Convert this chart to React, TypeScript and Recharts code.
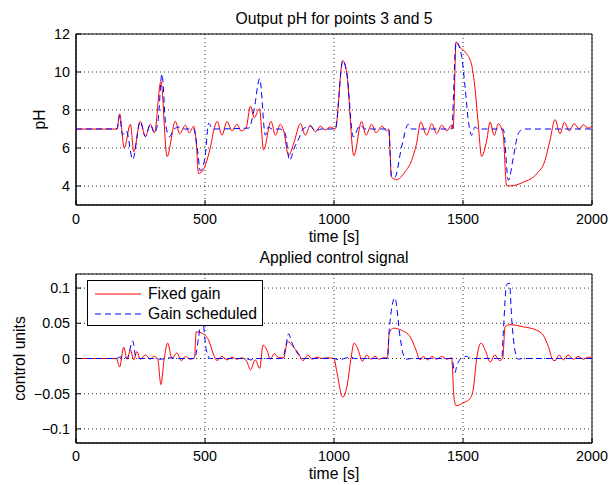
import {
  LineChart,
  Line,
  XAxis,
  YAxis,
  CartesianGrid,
  ReferenceArea,
  Legend,
} from "recharts";

const timeTicks = [0, 500, 1000, 1500, 2000];
const phTicks = [4, 6, 8, 10, 12];
const uTicks = [-0.1, -0.05, 0, 0.05, 0.1];

// [time, pH]
const phFixed: [number, number][] = [
  [0, 7], [159, 7], [169, 7.8], [187, 6.0], [211, 7.25], [224, 5.8], [249, 7.4],
  [269, 6.6], [288, 7.25], [304, 6.8], [329, 9.5], [353, 5.55], [385, 7.4],
  [402, 6.75], [424, 7.2], [439, 6.8], [456, 7.15], [466, 6.3], [475, 4.65],
  [495, 4.9], [521, 6.05], [537, 7.1], [547, 7.4], [566, 6.67], [585, 7.4],
  [605, 6.9], [624, 7.25], [640, 6.9], [660, 7.1], [676, 8.2], [691, 7.6],
  [711, 8.07], [727, 5.9], [756, 7.4], [773, 6.67], [792, 7.25], [805, 6.9],
  [824, 5.6], [845, 6.3], [870, 7.28], [889, 6.67], [908, 7.2], [928, 6.85],
  [947, 7.15], [966, 6.95], [986, 7.1], [1005, 7.0], [1034, 10.6], [1049, 10.0],
  [1077, 5.6], [1107, 7.4], [1124, 6.67], [1146, 7.25], [1163, 6.8], [1185, 7.15],
  [1204, 6.9], [1212, 7.0], [1223, 4.47], [1243, 4.33], [1275, 4.74], [1301, 5.35],
  [1320, 6.23], [1336, 7.37], [1359, 6.67], [1379, 7.28], [1398, 6.75], [1417, 7.2],
  [1437, 6.9], [1456, 7.2], [1462, 7.0], [1473, 11.58], [1488, 11.3], [1514, 10.96],
  [1534, 10.35], [1546, 9.2], [1559, 7.28], [1572, 5.56], [1592, 6.4], [1605, 7.37],
  [1621, 6.67], [1637, 7.28], [1650, 7.0], [1656, 6.7], [1669, 4.03], [1682, 4.0],
  [1734, 4.2], [1786, 4.65], [1818, 5.35], [1837, 6.4], [1857, 7.5], [1876, 6.75],
  [1893, 7.35], [1912, 6.9], [1931, 7.28], [1951, 7.0], [1966, 7.22], [1986, 7.05],
  [2000, 7.15],
];

const phScheduled: [number, number][] = [
  [0, 7], [159, 7], [169, 7.7], [180, 6.7], [195, 6.9], [220, 5.4], [249, 7.4],
  [269, 6.6], [288, 7.25], [304, 6.8], [318, 7.4], [333, 9.9], [348, 7.2],
  [363, 6.6], [380, 7.0], [400, 7.1], [420, 7.0], [456, 7.0], [470, 6.0],
  [482, 4.8], [500, 5.5], [514, 7.3], [530, 7.0], [670, 7.05], [690, 8.0],
  [712, 9.65], [734, 6.67], [745, 7.1], [760, 7.0], [790, 7.0], [810, 6.8],
  [828, 5.35], [846, 6.0], [864, 6.5], [880, 7.0], [908, 7.15], [928, 6.9],
  [950, 7.0], [1005, 7.0], [1034, 10.6], [1049, 10.0], [1075, 6.58], [1101, 7.2],
  [1120, 7.0], [1212, 7.0], [1223, 4.47], [1236, 4.47], [1262, 6.05], [1288, 7.25],
  [1300, 7.0], [1456, 7.0], [1473, 11.58], [1495, 10.8], [1508, 9.2], [1522, 7.3],
  [1534, 6.67], [1546, 7.1], [1560, 7.0], [1656, 7.0], [1676, 4.3], [1695, 5.5],
  [1714, 6.75], [1734, 7.0], [2000, 7.0],
];

// [time, control]
const uFixed: [number, number][] = [
  [0, 0], [156, 0], [169, -0.012], [185, 0.016], [198, -0.001], [211, 0.012],
  [224, -0.002], [236, 0.01], [249, -0.001], [269, 0.005], [288, -0.001],
  [301, 0.003], [317, -0.001], [329, -0.037], [342, 0.0], [355, 0.022], [372, 0.0],
  [391, 0.008], [408, -0.003], [424, 0.003], [443, -0.001], [459, 0.001],
  [466, 0.038], [488, 0.036], [514, 0.026], [534, 0.005], [547, -0.003],
  [566, 0.003], [585, -0.002], [605, 0.002], [624, -0.001], [643, 0.001],
  [663, -0.005], [676, -0.016], [695, -0.002], [712, -0.014], [725, 0.019],
  [740, 0.012], [753, -0.001], [769, 0.007], [786, 0.001], [805, 0.001],
  [820, 0.024], [841, 0.017], [863, 0.007], [880, -0.003], [898, 0.005],
  [915, -0.001], [934, 0.002], [953, 0.0], [973, 0.001], [1000, 0.0],
  [1010, -0.017], [1034, -0.055], [1052, -0.036], [1065, -0.002], [1078, 0.022],
  [1094, 0.012], [1110, -0.004], [1127, 0.005], [1142, -0.001], [1159, 0.003],
  [1176, -0.001], [1191, 0.001], [1207, 0.001], [1214, 0.036], [1230, 0.043],
  [1262, 0.04], [1295, 0.031], [1318, 0.012], [1333, -0.002], [1346, 0.003],
  [1363, -0.002], [1379, 0.003], [1398, -0.001], [1417, 0.003], [1437, -0.001],
  [1456, 0.001], [1465, -0.055], [1473, -0.067], [1501, -0.063], [1527, -0.057],
  [1540, -0.043], [1553, 0.0], [1570, 0.022], [1588, 0.01], [1605, -0.005],
  [1624, 0.005], [1641, -0.003], [1654, 0.0], [1663, 0.045], [1682, 0.048],
  [1734, 0.045], [1786, 0.04], [1811, 0.033], [1831, 0.017], [1848, -0.002],
  [1857, -0.003], [1873, 0.005], [1889, -0.002], [1908, 0.005], [1928, -0.001],
  [1947, 0.003], [1966, -0.001], [1986, 0.002], [2000, 0.001],
];

const uScheduled: [number, number][] = [
  [0, 0], [156, 0], [169, 0.002], [185, 0.003], [198, 0.0], [220, 0.025],
  [232, 0.002], [249, 0.0], [300, 0.0], [330, -0.001], [360, 0.001], [400, 0.0],
  [460, 0.0], [475, 0.03], [488, 0.06], [505, 0.012], [520, 0.0], [660, 0.0],
  [676, -0.002], [700, 0.0], [800, 0.0], [812, 0.015], [824, 0.035], [835, 0.024],
  [863, 0.005], [880, 0.0], [1000, 0.0], [1020, -0.002], [1040, 0.0],
  [1065, 0.002], [1080, 0.0], [1207, 0.0], [1214, 0.04], [1236, 0.086],
  [1256, 0.031], [1269, 0.005], [1282, -0.001], [1300, 0.0], [1456, 0.0],
  [1469, -0.02], [1475, -0.012], [1495, 0.001], [1514, 0.003], [1530, 0.0],
  [1650, 0.0], [1656, 0.036], [1669, 0.105], [1680, 0.107], [1689, 0.055],
  [1702, 0.01], [1714, -0.001], [1730, 0.0], [2000, 0.0],
];

const FONT = '"Liberation Sans", Arial, Helvetica, sans-serif';
const TICK_FONT = 14.3;
const LABEL_FONT = 15.7;
const RED = "#ff0000";
const BLUE = "#0000ff";
const DASH = "6 4";

const toRows = (pts: [number, number][]) => pts.map(([t, v]) => ({ t, v }));

const fmtU = (v: number) => (v < 0 ? "\u2212" + String(-v) : String(v));

const yLabel = (text: string, cx: number) => (props: any) => {
  const vb = props.viewBox;
  const cy = vb.y + vb.height / 2;
  return (
    <text
      x={cx}
      y={cy}
      transform={`rotate(-90 ${cx} ${cy})`}
      textAnchor="middle"
      dominantBaseline="central"
      fontSize={LABEL_FONT}
      fontFamily={FONT}
      fill="#000"
    >
      {text}
    </text>
  );
};

const xLabel = (text: string, cy: number) => (props: any) => {
  const vb = props.viewBox;
  return (
    <text
      x={vb.x + vb.width / 2}
      y={cy}
      textAnchor="middle"
      dominantBaseline="central"
      fontSize={LABEL_FONT}
      fontFamily={FONT}
      fill="#000"
    >
      {text}
    </text>
  );
};

function LegendBox() {
  const row = (color: string, dash: string | undefined, text: string) => (
    <div style={{ display: "flex", alignItems: "center", height: 20 }}>
      <svg width={53} height={20} style={{ display: "block" }}>
        <line
          x1={7}
          x2={55}
          y1={10}
          y2={10}
          stroke={color}
          strokeWidth={1}
          strokeDasharray={dash}
        />
      </svg>
      <span style={{ marginLeft: 7, fontSize: LABEL_FONT, lineHeight: "20px" }}>
        {text}
      </span>
    </div>
  );
  return (
    <div
      style={{
        width: 174,
        height: 42,
        border: "1px solid #000",
        background: "#fff",
        paddingTop: 2,
        boxSizing: "content-box",
        fontFamily: FONT,
        color: "#000",
        whiteSpace: "nowrap",
        textAlign: "left",
      }}
    >
      <div style={{ marginTop: 1 }}>{row(RED, undefined, "Fixed gain")}</div>
      {row(BLUE, DASH, "Gain scheduled")}
    </div>
  );
}

const titleStyle: React.CSSProperties = {
  position: "absolute",
  left: 76,
  width: 516,
  textAlign: "center",
  fontSize: LABEL_FONT,
  lineHeight: "19px",
  fontFamily: FONT,
  color: "#000",
  whiteSpace: "nowrap",
};

export default function App() {
  return (
    <div
      style={{
        position: "absolute",
        left: 0,
        top: 0,
        width: 610,
        height: 485,
        background: "#fff",
        fontFamily: FONT,
      }}
    >
      <div style={{ ...titleStyle, top: 9 }}>Output pH for points 3 and 5</div>
      <div style={{ ...titleStyle, top: 248 }}>Applied control signal</div>

      <div style={{ position: "absolute", left: 0, top: 0 }}>
        <LineChart
          width={610}
          height={250}
          margin={{ top: 34, right: 18, bottom: 0, left: 0 }}
        >
          <CartesianGrid strokeDasharray="1 3" stroke="#333" />
          <XAxis
            type="number"
            dataKey="t"
            domain={[0, 2000]}
            ticks={timeTicks}
            allowDataOverflow
            height={45}
            tickSize={-5}
            tickMargin={14}
            stroke="#000"
            tick={{ fill: "#000", fontSize: TICK_FONT, fontFamily: FONT }}
            label={xLabel("time [s]", 236)}
          />
          <YAxis
            type="number"
            domain={[3, 12]}
            ticks={phTicks}
            allowDataOverflow
            width={76}
            tickSize={-5}
            tickMargin={11}
            stroke="#000"
            tick={{ fill: "#000", fontSize: TICK_FONT, fontFamily: FONT }}
            label={yLabel("pH", 39)}
          />
          <ReferenceArea x1={0} x2={2000} y1={3} y2={12} fill="none" stroke="#000" />
          <Line
            data={toRows(phFixed)}
            dataKey="v"
            type="monotone"
            stroke={RED}
            strokeWidth={1}
            dot={false}
            isAnimationActive={false}
          />
          <Line
            data={toRows(phScheduled)}
            dataKey="v"
            type="monotone"
            stroke={BLUE}
            strokeWidth={1}
            strokeDasharray={DASH}
            dot={false}
            isAnimationActive={false}
          />
        </LineChart>
      </div>

      <div style={{ position: "absolute", left: 0, top: 240 }}>
        <LineChart
          width={610}
          height={245}
          margin={{ top: 34, right: 18, bottom: 0, left: 0 }}
        >
          <CartesianGrid strokeDasharray="1 3" stroke="#333" />
          <XAxis
            type="number"
            dataKey="t"
            domain={[0, 2000]}
            ticks={timeTicks}
            allowDataOverflow
            height={42}
            tickSize={-5}
            tickMargin={13}
            stroke="#000"
            tick={{ fill: "#000", fontSize: TICK_FONT, fontFamily: FONT }}
            label={xLabel("time [s]", 233)}
          />
          <YAxis
            type="number"
            domain={[-0.12, 0.12]}
            ticks={uTicks}
            allowDataOverflow
            width={76}
            tickSize={-5}
            tickMargin={11}
            stroke="#000"
            tickFormatter={fmtU}
            tick={{ fill: "#000", fontSize: TICK_FONT, fontFamily: FONT }}
            label={yLabel("control units", 19)}
          />
          <ReferenceArea
            x1={0}
            x2={2000}
            y1={-0.12}
            y2={0.12}
            fill="none"
            stroke="#000"
          />
          <Line
            data={toRows(uFixed)}
            dataKey="v"
            name="Fixed gain"
            type="monotone"
            stroke={RED}
            strokeWidth={1}
            dot={false}
            isAnimationActive={false}
          />
          <Line
            data={toRows(uScheduled)}
            dataKey="v"
            name="Gain scheduled"
            type="monotone"
            stroke={BLUE}
            strokeWidth={1}
            strokeDasharray={DASH}
            dot={false}
            isAnimationActive={false}
          />
          <Legend
            layout="horizontal"
            verticalAlign="middle"
            align="center"
            wrapperStyle={{ left: 87, top: 40, width: 176, height: 45 }}
            content={() => <LegendBox />}
          />
        </LineChart>
      </div>
    </div>
  );
}
